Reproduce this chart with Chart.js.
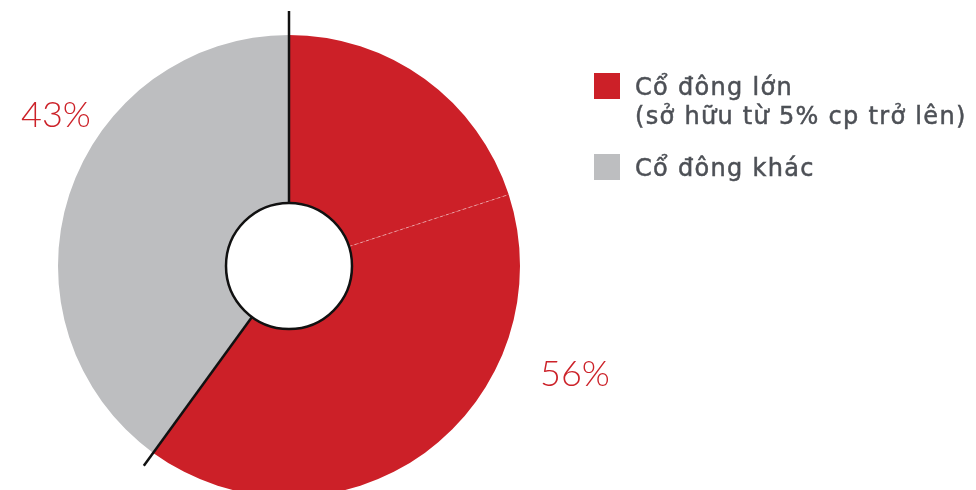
<!DOCTYPE html>
<html>
<head>
<meta charset="utf-8">
<script src="https://cdn.jsdelivr.net/npm/chart.js@4.4.1/dist/chart.umd.min.js"></script>
<style>
    html, body { margin: 0; padding: 0; background: #fff; overflow: hidden; }
    #wrap { position: relative; width: 976px; height: 490px; overflow: hidden; }
    #wrap canvas { position: absolute; left: 0; top: 0; }
    .pct { position: absolute; font-family: Lato, "Noto Sans", sans-serif; font-weight: 300; font-size: 36px; color: #cc2229; line-height: 1; }
    #legend { position: absolute; left: 594px; top: 73px; font-family: "DejaVu Sans", sans-serif; font-size: 24px; letter-spacing: 1.3px; color: #4d5056; -webkit-text-stroke: 0.5px #4d5056; white-space: nowrap; }
    .item { position: relative; padding-left: 41px; margin-bottom: 23px; line-height: 29px; }
    .box { position: absolute; left: 0; top: 0; width: 26px; height: 26px; }
</style>
</head>
<body>
<div id="wrap">
    <canvas id="pie"></canvas>
    <div class="pct" style="left:21px; top:95px;">43%</div>
    <div class="pct" style="left:540px; top:354px;">56%</div>
    <div id="legend"></div>
</div>
<script>
// slices, clockwise from the top
const sliceValues = [20, 40, 40];
const sliceGroup = [0, 0, 1];

// legend groups
const groupLabels = [["Cổ đông lớn", "(sở hữu từ 5% cp trở lên)"], ["Cổ đông khác"]];
const groupColors = ["#cc2028", "#bdbec0"];
const pctLabels = ["56%", "43%"];

//Legend built from the groups
for (let i = 0; i < groupLabels.length; i++) {
    const item = document.createElement("div");
    item.className = "item";
    item.innerHTML = `<span class="box" style="background:${groupColors[i]}"></span>${groupLabels[i].join("<br>")}`;
    document.getElementById("legend").appendChild(item);
}

//Divider lines, faint split between red slices and the white hole
const decor = {
    id: "decor",
    afterDatasetsDraw(chart) {
        const ctx = chart.ctx;
        const arcs = chart.getDatasetMeta(0).data;
        const x = arcs[0].x, y = arcs[0].y;
        const inner = arcs[0].innerRadius, outer = arcs[0].outerRadius;

        const ray = (angle, r0, r1) => {
            ctx.beginPath();
            ctx.moveTo(x + Math.cos(angle) * r0, y + Math.sin(angle) * r0);
            ctx.lineTo(x + Math.cos(angle) * r1, y + Math.sin(angle) * r1);
            ctx.stroke();
        };

        ctx.save();
        for (let i = 1; i < arcs.length; i++) {
            if (sliceGroup[i] === sliceGroup[i - 1]) {
                ctx.strokeStyle = "rgba(255,255,255,0.45)";
                ctx.lineWidth = 1;
                ctx.setLineDash([3, 3]);
                ray(arcs[i].startAngle, inner, outer);
                ctx.setLineDash([]);
            }
        }
        ctx.strokeStyle = "#111";
        ctx.lineWidth = 2.5;
        ray(arcs[0].startAngle, inner, outer + 24);
        const g = sliceGroup.indexOf(1);
        ray(arcs[g].startAngle, inner, outer + 16);

        ctx.beginPath();
        ctx.arc(x, y, inner, 0, Math.PI * 2);
        ctx.fillStyle = "#fff";
        ctx.fill();
        ctx.stroke();
        ctx.restore();
    }
};

const canvas = document.getElementById("pie");
canvas.style.width = "976px";
canvas.style.height = "532px";
canvas.width = 976;
canvas.height = 532;

new Chart(canvas.getContext("2d"), {
    type: "doughnut",
    data: {
        labels: sliceGroup.map(g => groupLabels[g][0]),
        datasets: [{
            data: sliceValues,
            backgroundColor: sliceGroup.map(g => groupColors[g]),
            borderWidth: 0
        }]
    },
    options: {
        responsive: false,
        animation: false,
        cutout: 63,
        layout: { padding: { left: 58, right: 456, top: 35, bottom: 35 } },
        plugins: {
            legend: { display: false },
            tooltip: { enabled: false }
        }
    },
    plugins: [decor]
});
</script>
</body>
</html>
